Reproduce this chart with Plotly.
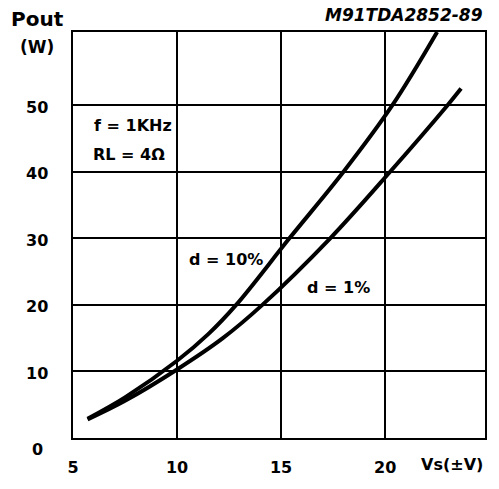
'''
    Output power vs supply voltage chart (datasheet style),
    two distortion curves: d=10% and d=1%.
'''

import plotly.graph_objects as go

# supply voltage (V) and output power (W)
vs_10 = [5.7, 7.5, 10.0, 11.5, 12.84, 15.4, 18.0, 20.35, 22.5]
pout_10 = [2.9, 6.1, 11.6, 15.6, 20.0, 30.0, 40.0, 50.0, 61.0]

vs_1 = [5.7, 7.5, 10.0, 12.2, 14.1, 17.36, 20.24, 23.0, 23.65]
pout_1 = [2.8, 5.6, 10.3, 15.0, 20.0, 30.0, 40.0, 50.0, 52.5]

x_ticks = [5, 10, 15, 20]
y_ticks = [0, 10, 20, 30, 40, 50]

FONT = "DejaVu Sans"


def init_figure():
    fig = go.Figure()
    fig.update_layout(
        width=499,
        height=489,
        margin=dict(l=73, r=14, t=32, b=43),
        plot_bgcolor="white",
        paper_bgcolor="white",
        showlegend=False,
        font=dict(family=FONT, size=16, color="black", weight="bold"),
    )
    return fig


def draw(fig):
    for xs, ys, name in [(vs_10, pout_10, "d=10%"), (vs_1, pout_1, "d=1%")]:
        fig.add_trace(go.Scatter(
            x=xs, y=ys, name=name, mode="lines",
            line=dict(color="black", width=4, shape="spline", smoothing=1),
            hoverinfo="skip",
        ))

    fig.update_xaxes(
        range=[5, 24.8], tickvals=x_ticks,
        showgrid=True, gridcolor="black", gridwidth=2,
        showline=True, linecolor="black", linewidth=2, mirror=True,
        ticks="outside", ticklen=14, tickcolor="rgba(0,0,0,0)",
        zeroline=False,
    )
    fig.update_yaxes(
        range=[0, 61], tickvals=y_ticks, showticklabels=False,
        showgrid=True, gridcolor="black", gridwidth=2,
        showline=True, linecolor="black", linewidth=2, mirror=True,
        zeroline=False,
    )

    # y tick labels, centred left of the axis ("0" sits a little lower)
    for v in y_ticks:
        fig.add_annotation(
            x=-0.087, xref="paper", y=v, yref="y", text=str(v),
            showarrow=False, xanchor="center", yanchor="middle",
            yshift=-11 if v == 0 else -2,
        )

    notes = [
        dict(x=-0.085, y=1.033, text="Pout", size=20),
        dict(x=-0.087, y=0.963, text="(W)", size=17),
    ]
    for n in notes:
        fig.add_annotation(
            x=n["x"], y=n["y"], xref="paper", yref="paper", text=n["text"],
            showarrow=False, xanchor="center", yanchor="middle",
            font=dict(size=n["size"]),
        )

    fig.add_annotation(
        x=1.0, y=1.041, xref="paper", yref="paper", text="M91TDA2852-89",
        showarrow=False, xanchor="right", yanchor="middle",
        font=dict(size=17, style="italic"),
    )
    fig.add_annotation(
        x=0.92, y=-0.065, xref="paper", yref="paper", text="Vs(±V)",
        showarrow=False, xanchor="center", yanchor="middle",
    )

    labels = [
        (5.91, 46.9, "f = 1KHz"),
        (5.87, 42.6, "RL = 4Ω"),
        (10.48, 26.8, "d = 10%"),
        (16.15, 22.6, "d = 1%"),
    ]
    for x, y, t in labels:
        fig.add_annotation(
            x=x, y=y, text=t, showarrow=False,
            xanchor="left", yanchor="middle",
        )
    return fig


fig = draw(init_figure())
# drop the browser's default body margin so the figure sits at (0, 0)
fig.write_html(
    "out.html",
    config={"displayModeBar": False},
    post_script="document.body.style.margin = '0';",
)
